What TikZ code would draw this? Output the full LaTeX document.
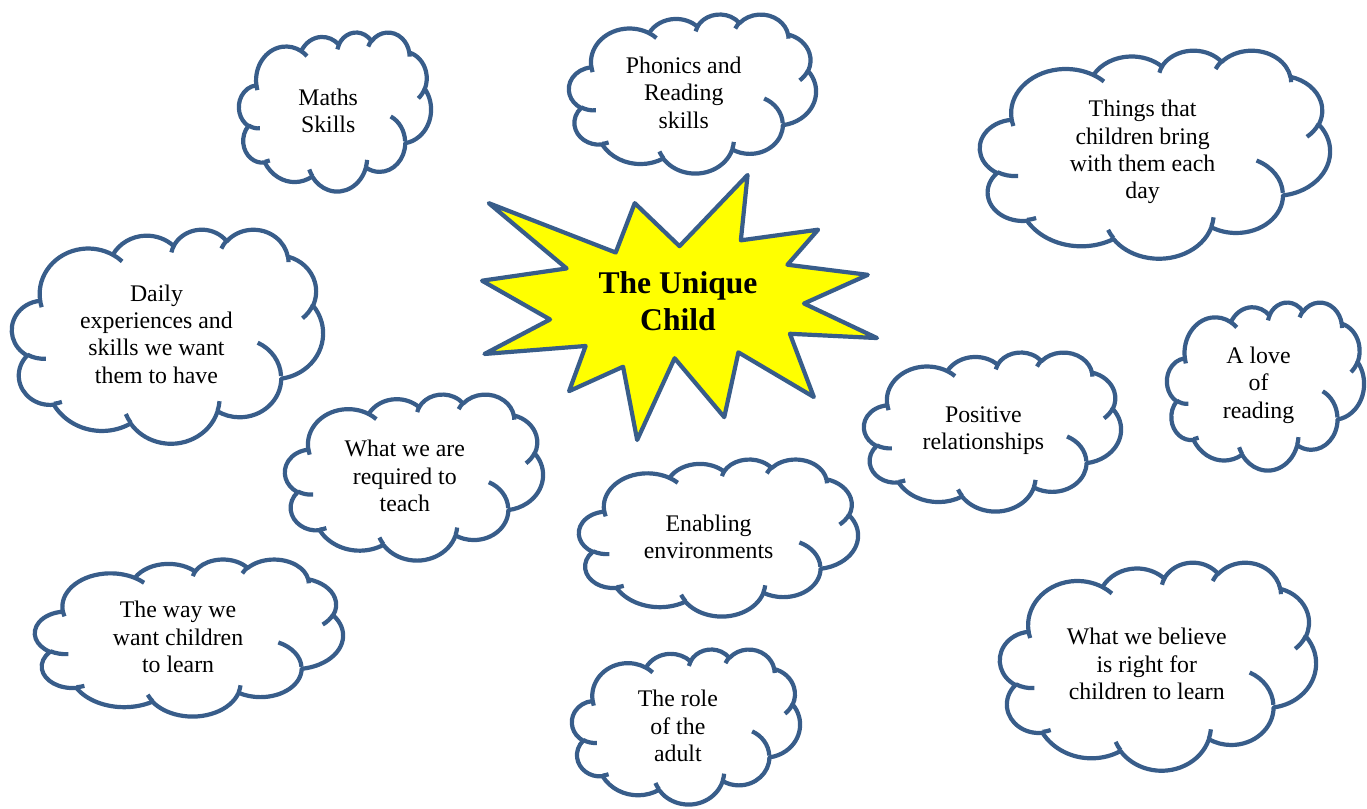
\documentclass[tikz,border=0pt]{standalone}
\usepackage{fontspec}
\setmainfont{Liberation Serif}
\definecolor{cloudblue}{RGB}{56,93,138}
\definecolor{staryellow}{RGB}{255,255,0}

% Office "cloud" preset geometry (43200 x 43200 path units, in thousands)
\newcommand\mkcloudarc[5]{%
  \pgfmathsetmacro\ucTa{atan2((#2)*sin(#4),(#3)*cos(#4))}%
  \pgfmathsetmacro\ucTb{atan2((#2)*sin((#4)+(#5)),(#3)*cos((#4)+(#5)))}%
  \pgfmathsetmacro\ucTb{(\ucTb)<(\ucTa) ? (\ucTb)+360 : (\ucTb)}%
  \expandafter\xdef\csname ucArc#1\endcsname{arc[start angle=\ucTa, end angle=\ucTb, x radius=#2, y radius=#3]}%
}
\mkcloudarc{A}{6.753}{9.190}{-190.48748}{123.78053}
\mkcloudarc{B}{5.333}{7.267}{-144.10238}{89.94523}
\mkcloudarc{C}{4.365}{5.945}{-145.80792}{99.72302}
\mkcloudarc{D}{4.857}{6.595}{-130.98607}{117.24173}
\mkcloudarc{E}{5.333}{7.273}{-78.70888}{109.02692}
\mkcloudarc{F}{6.775}{9.220}{-46.26725}{130.269}
\mkcloudarc{G}{5.785}{7.867}{0.62502}{114.03333}
\mkcloudarc{H}{6.752}{9.215}{22.4516}{115.17255}
\mkcloudarc{I}{7.720}{10.543}{66.24263}{75.71102}
\mkcloudarc{J}{4.360}{5.918}{-274.94208}{146.73557}
\mkcloudarc{K}{4.345}{5.945}{-246.8285}{152.51885}
\mkcloudarc{a}{4.345}{5.945}{86.742}{26.4295}
\mkcloudarc{b}{4.360}{5.918}{73.61047}{11.44747}
\mkcloudarc{c}{6.752}{9.215}{137.62415}{14.0811}
\mkcloudarc{d}{6.752}{9.215}{6.45327}{15.99835}
\mkcloudarc{e}{5.785}{7.867}{-70.29235}{66.70958}
\mkcloudarc{f}{5.333}{7.273}{30.31803}{27.7515}
\mkcloudarc{g}{4.857}{6.595}{-13.74433}{14.8589}
\mkcloudarc{h}{4.857}{6.595}{-149.18145}{18.19537}
\mkcloudarc{i}{4.365}{5.945}{-163.49427}{17.68635}
\mkcloudarc{j}{6.753}{9.190}{-66.70695}{12.31935}
\mkcloudarc{k}{6.753}{9.190}{157.65435}{11.85817}

\tikzset{
  cloudline/.style={draw=cloudblue, line width=4.2pt, line join=round},
  starline/.style={draw=cloudblue, fill=staryellow, line width=4.2pt, line join=round},
  cloudtext/.style={align=center, inner sep=0pt, text=black,
    font=\fontsize{23.8}{27.4}\selectfont},
  titletext/.style={align=center, inner sep=0pt, text=black,
    font=\fontsize{31.6}{37}\selectfont\bfseries}
}

% #1 name, #2 x0, #3 y0, #4 width, #5 height, #6 text  (pixel units, y down)
\newcommand\cloudnode[6]{%
  \begin{scope}[shift={(#2,#3)}, xscale={(#4)/43.2}, yscale={(#5)/43.2}]
    \path[cloudline, fill=white] (3.9,14.37) \ucArcA \ucArcB \ucArcC \ucArcD \ucArcE
      \ucArcF \ucArcG \ucArcH \ucArcI \ucArcJ \ucArcK -- cycle;
    \path[cloudline] (4.693,26.177) \ucArca (6.928,34.899) \ucArcb
      (16.478,39.090) \ucArcc (28.827,34.751) \ucArcd (34.129,22.954) \ucArce
      (41.798,15.354) \ucArcf (38.324,5.426) \ucArcg (29.078,3.952) \ucArch
      (22.141,4.720) \ucArci (14.000,5.192) \ucArcj (4.127,15.789) \ucArck;
  \end{scope}
  \node[cloudtext] (#1) at ({#2+0.4645*#4},{#3+0.4768*#5+3}) {#6};
}

\begin{document}
\begin{tikzpicture}[x=1pt,y=1pt]
\begin{scope}[yscale=-1]
  \fill[white] (0,0) rectangle (1367,808);
  \useasboundingbox (0,0) rectangle (1367,808);

  % central explosion
  \begin{scope}[shift={(482,175)}, xscale=395/21.6, yscale=265/21.6]
    \draw[starline] (10.8,5.8) -- (14.522,0) -- (14.155,5.325) -- (18.38,4.457)
      -- (16.702,7.315) -- (21.097,8.137) -- (17.607,10.475) -- (21.6,13.29)
      -- (16.837,12.942) -- (18.145,18.095) -- (14.02,14.457) -- (13.247,19.737)
      -- (10.532,14.935) -- (8.485,21.6) -- (7.715,15.627) -- (4.762,17.617)
      -- (5.667,13.937) -- (0.135,14.587) -- (3.722,11.775) -- (0,8.615)
      -- (4.627,7.617) -- (0.37,2.295) -- (7.312,6.32) -- (8.352,2.295) -- cycle;
  \end{scope}
  \node[titletext] (title) at (678,301) {The Unique\\Child};

  \cloudnode{maths}{239}{32}{192}{159}{Maths\\Skills}
  \cloudnode{phonics}{569}{14}{247}{159}{Phonics and\\Reading\\skills}
  \cloudnode{things}{980}{50}{350}{208}{Things that\\children bring\\with them each\\day}
  \cloudnode{daily}{12}{229}{311}{214}{Daily\\experiences and\\skills we want\\them to have}
  \cloudnode{required}{285}{394}{258}{166}{What we are\\required to\\teach}
  \cloudnode{love}{1167}{302}{197}{168}{A love\\of\\reading}
  \cloudnode{positive}{864}{352}{257}{159}{Positive\\relationships}
  \cloudnode{enabling}{579}{459}{279}{157}{Enabling\\environments}
  \cloudnode{way}{35}{559}{308}{157}{The way we\\want children\\to learn}
  \cloudnode{believe}{1000}{562}{316}{208}{What we believe\\is right for\\children to learn}
  \cloudnode{role}{572}{649}{228}{155}{The role\\of the\\adult}
\end{scope}
\end{tikzpicture}
\end{document}
